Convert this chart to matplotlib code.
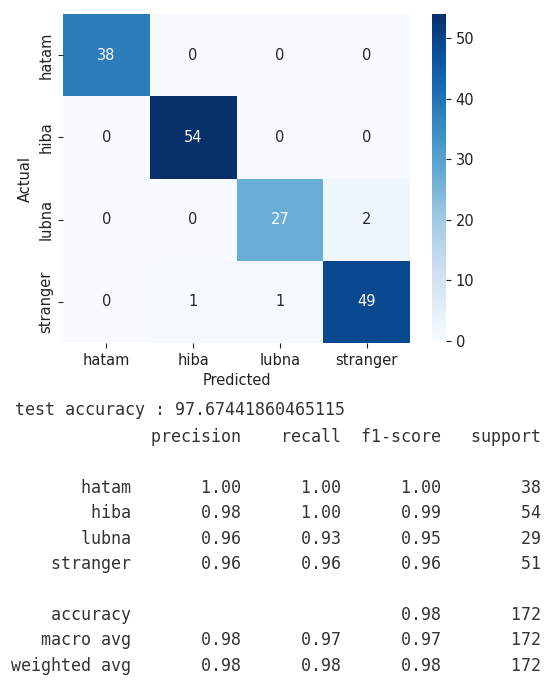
import numpy as np
import seaborn as sns
from matplotlib import pyplot as plt

# Confusion matrix and classification report values
classes = ['hatam', 'hiba', 'lubna', 'stranger']
conf_mat = [[38, 0, 0, 0],
            [0, 54, 0, 0],
            [0, 0, 27, 2],
            [0, 1, 1, 49]]
precision = [1.00, 0.98, 0.96, 0.96]
recall = [1.00, 1.00, 0.93, 0.96]
f1_score = [1.00, 0.99, 0.95, 0.96]
support = [38, 54, 29, 51]
test_accuracy = 97.67441860465115
accuracy = 0.98
macro_avg = [0.98, 0.97, 0.97]
weighted_avg = [0.98, 0.98, 0.98]
total = 172

W, H = 549, 681
fig = plt.figure(figsize=(W / 100, H / 100), dpi=100)

# Heatmap axes and colorbar axes placed in pixel coordinates
ax = fig.add_axes([63 / W, 1 - 343 / H, 347 / W, 329 / H])
cax = fig.add_axes([432 / W, 1 - 341 / H, 14 / W, 327 / H])

sns.heatmap(np.array(conf_mat), annot=True, fmt='d', cmap='Blues',
            xticklabels=classes, yticklabels=classes, ax=ax, cbar_ax=cax,
            annot_kws={'fontsize': 10.5})
ax.set_xlabel('Predicted', fontsize=10.5, color='#222222')
ax.set_ylabel('Actual', fontsize=10.5, color='#222222')
ax.tick_params(labelsize=10.5, colors='#222222')
plt.setp(ax.get_yticklabels(), rotation=90, va='center')
cax.tick_params(labelsize=10.5, colors='#222222')
cax.set_yticks([0, 10, 20, 30, 40, 50])

# Printed output below the heatmap (sklearn style report)
lines = ['{:>12s} '.format('') + ''.join(' {:>9}'.format(h) for h in
                                          ['precision', 'recall', 'f1-score', 'support']), '']
for name, p, r, f, s in zip(classes, precision, recall, f1_score, support):
    lines.append('{:>12s}  {:>9.2f} {:>9.2f} {:>9.2f} {:>9}'.format(name, p, r, f, s))
lines.append('')
lines.append('{:>12s}  {:>9s} {:>9s} {:>9.2f} {:>9}'.format('accuracy', '', '', accuracy, total))
lines.append('{:>12s}  {:>9.2f} {:>9.2f} {:>9.2f} {:>9}'.format('macro avg', *macro_avg, total))
lines.append('{:>12s}  {:>9.2f} {:>9.2f} {:>9.2f} {:>9}'.format('weighted avg', *weighted_avg, total))

mono = dict(family='DejaVu Sans Mono', fontsize=11.95, color='#333333', va='center', ha='left')
fig.text(15 / W, 1 - 410 / H, 'test accuracy : {}'.format(test_accuracy), **mono)
for i, line in enumerate(lines):
    fig.text(11 / W, 1 - (437 + 25.4 * i) / H, line, **mono)

plt.savefig('out.png', dpi=100)
